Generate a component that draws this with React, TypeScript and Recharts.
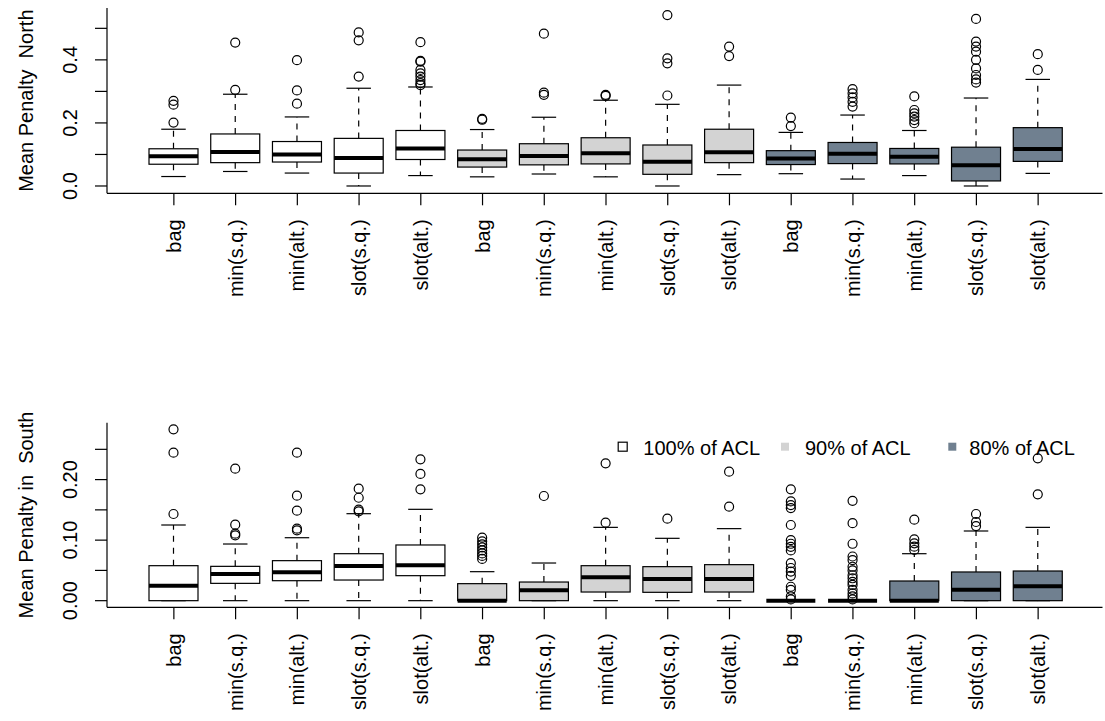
import React from 'react';
import { ComposedChart, Bar, XAxis, YAxis, Legend } from 'recharts';

const FONT = '"Liberation Sans", Arial, Helvetica, sans-serif';

// ---- categories ----
const methods = ['bag', 'min(s.q.)', 'min(alt.)', 'slot(s.q.)', 'slot(alt.)'];
const levels = ['100% of ACL', '90% of ACL', '80% of ACL'];
const levelColors = ['#FFFFFF', '#D3D3D3', '#708090'];

// ---- North panel (box statistics) ----
const northLow = [0.030, 0.046, 0.041, 0.0, 0.033, 0.029, 0.038, 0.029, 0.0, 0.036, 0.039, 0.022, 0.033, 0.0, 0.040];
const northQ1 = [0.069, 0.074, 0.076, 0.041, 0.084, 0.060, 0.067, 0.070, 0.037, 0.074, 0.068, 0.071, 0.070, 0.016, 0.078];
const northMed = [0.094, 0.108, 0.100, 0.089, 0.119, 0.085, 0.095, 0.104, 0.077, 0.107, 0.087, 0.102, 0.093, 0.066, 0.117];
const northQ3 = [0.118, 0.165, 0.141, 0.151, 0.176, 0.114, 0.134, 0.153, 0.130, 0.180, 0.112, 0.138, 0.119, 0.123, 0.185];
const northHigh = [0.180, 0.291, 0.219, 0.310, 0.314, 0.179, 0.218, 0.272, 0.259, 0.320, 0.170, 0.225, 0.176, 0.279, 0.338];
const northOutliers = [
  [0.201, 0.258, 0.270],
  [0.305, 0.455],
  [0.261, 0.303, 0.399],
  [0.347, 0.462, 0.487],
  [0.320, 0.326, 0.336, 0.347, 0.357, 0.368, 0.394, 0.397, 0.456],
  [0.210, 0.213],
  [0.289, 0.296, 0.483],
  [0.286, 0.289],
  [0.287, 0.389, 0.405, 0.542],
  [0.412, 0.442],
  [0.190, 0.217],
  [0.252, 0.267, 0.281, 0.294, 0.307],
  [0.199, 0.209, 0.220, 0.230, 0.241, 0.284],
  [0.328, 0.338, 0.352, 0.373, 0.400, 0.426, 0.442, 0.458, 0.530],
  [0.368, 0.418],
];
const northTicks = [0, 0.1, 0.2, 0.3, 0.4, 0.5];
const northTickLabels = ['0.0', '', '0.2', '', '0.4', ''];
const northDomain: [number, number] = [-0.0232, 0.5645];

// ---- South panel (box statistics) ----
const southLow = [0, 0, 0, 0, 0, 0, 0, 0, 0, 0, 0, 0, 0, 0, 0];
const southQ1 = [0, 0.0286, 0.033, 0.0341, 0.0413, 0, 0, 0.0143, 0.0138, 0.0143, 0, 0, 0, 0, 0];
const southMed = [0.0248, 0.0441, 0.0468, 0.0573, 0.0584, 0, 0.0171, 0.0385, 0.0358, 0.0358, 0, 0, 0, 0.0182, 0.0237];
const southQ3 = [0.0578, 0.0567, 0.0661, 0.0776, 0.092, 0.0281, 0.0308, 0.0578, 0.0562, 0.0595, 0, 0, 0.0325, 0.0474, 0.049];
const southHigh = [0.125, 0.0936, 0.104, 0.1437, 0.1509, 0.0479, 0.0622, 0.1211, 0.103, 0.119, 0, 0, 0.0776, 0.1151, 0.1211];
const southOutliers = [
  [0.1432, 0.2445, 0.2831],
  [0.108, 0.1107, 0.1256, 0.218],
  [0.1162, 0.119, 0.1487, 0.1735, 0.2445],
  [0.1476, 0.1503, 0.170, 0.185],
  [0.184, 0.2093, 0.2335],
  [0.069, 0.074, 0.078, 0.083, 0.088, 0.093, 0.098, 0.104],
  [0.1729],
  [0.1289, 0.2269],
  [0.1355],
  [0.1553, 0.2131],
  [0.002, 0.007, 0.018, 0.023, 0.041, 0.048, 0.054, 0.062, 0.083, 0.089, 0.094, 0.100, 0.125, 0.153, 0.158, 0.164, 0.184],
  [0.002, 0.007, 0.012, 0.018, 0.026, 0.031, 0.037, 0.042, 0.050, 0.056, 0.067, 0.073, 0.094, 0.128, 0.165],
  [0.0837, 0.0892, 0.0947, 0.1013, 0.1338],
  [0.1233, 0.130, 0.1432],
  [0.1757, 0.2351],
];
const southTicks = [0, 0.05, 0.1, 0.15, 0.2, 0.25];
const southTickLabels = ['0.00', '', '0.10', '', '0.20', ''];
const southDomain: [number, number] = [-0.01095, 0.294];

type Row = {
  key: string;
  method: string;
  fill: string;
  low: number;
  q1: number;
  med: number;
  q3: number;
  high: number;
  outliers: number[];
  lo: number;
  hi: number;
};

function buildRows(
  low: number[],
  q1: number[],
  med: number[],
  q3: number[],
  high: number[],
  outs: number[][]
): Row[] {
  return low.map((_, i) => {
    const g = Math.floor(i / methods.length);
    const m = i % methods.length;
    const all = [low[i], q1[i], med[i], q3[i], high[i], ...outs[i]];
    return {
      key: `b${i}`,
      method: methods[m],
      fill: levelColors[g],
      low: low[i],
      q1: q1[i],
      med: med[i],
      q3: q3[i],
      high: high[i],
      outliers: outs[i],
      lo: Math.min(...all),
      hi: Math.max(...all),
    };
  });
}

const northRows = buildRows(northLow, northQ1, northMed, northQ3, northHigh, northOutliers);
const southRows = buildRows(southLow, southQ1, southMed, southQ3, southHigh, southOutliers);

const LW = 1.2;

const BoxShape = (props: any) => {
  const { x, y, width, height, payload } = props;
  const d = payload as Row;
  if (!d || x == null || y == null) return null;
  const top = Math.min(y, y + height);
  const bot = Math.max(y, y + height);
  const py = (v: number) => bot - ((v - d.lo) / (d.hi - d.lo)) * (bot - top);
  const cx = x + width / 2;
  const half = width / 2;
  const cap = width / 4;
  const yQ1 = py(d.q1);
  const yQ3 = py(d.q3);
  const yMed = py(d.med);
  const yLow = py(d.low);
  const yHigh = py(d.high);
  return (
    <g>
      <line x1={cx} x2={cx} y1={yQ3} y2={yHigh} stroke="#000" strokeWidth={LW} strokeDasharray="6 6" />
      <line x1={cx} x2={cx} y1={yQ1} y2={yLow} stroke="#000" strokeWidth={LW} strokeDasharray="6 6" />
      <line x1={cx - cap} x2={cx + cap} y1={yHigh} y2={yHigh} stroke="#000" strokeWidth={LW} />
      <line x1={cx - cap} x2={cx + cap} y1={yLow} y2={yLow} stroke="#000" strokeWidth={LW} />
      <rect x={cx - half} y={yQ3} width={width} height={Math.max(0, yQ1 - yQ3)} fill={d.fill} stroke="#000" strokeWidth={LW} />
      <line x1={cx - half} x2={cx + half} y1={yMed} y2={yMed} stroke="#000" strokeWidth={4} />
      {d.outliers.map((o, k) => (
        <circle key={k} cx={cx} cy={py(o)} r={4.5} fill="none" stroke="#000" strokeWidth={LW} />
      ))}
    </g>
  );
};

const makeXTick = (rows: Row[]) => (props: any) => {
  const { x, y, payload } = props;
  const row = rows.find((r) => r.key === payload.value);
  const label = row ? row.method : '';
  return (
    <text
      x={x}
      y={y}
      transform={`rotate(-90 ${x} ${y})`}
      textAnchor="end"
      dy="0.35em"
      fontSize={20}
      fontFamily={FONT}
      fill="#000"
    >
      {label}
    </text>
  );
};

const makeYTick = (ticks: number[], labels: string[]) => (props: any) => {
  const { x, y, payload } = props;
  const idx = ticks.findIndex((t) => Math.abs(t - payload.value) < 1e-9);
  const label = idx >= 0 ? labels[idx] : '';
  if (!label) return <g />;
  return (
    <text
      x={x}
      y={y}
      transform={`rotate(-90 ${x} ${y})`}
      textAnchor="middle"
      fontSize={20}
      fontFamily={FONT}
      fill="#000"
    >
      {label}
    </text>
  );
};

const YTitle = (props: any) => {
  const vb = props.viewBox || {};
  const x = (vb.x ?? 0) + 33;
  const y = (vb.y ?? 0) + (vb.height ?? 0) / 2;
  return (
    <text
      x={x}
      y={y}
      transform={`rotate(-90 ${x} ${y})`}
      textAnchor="middle"
      fontSize={20}
      fontFamily={FONT}
      fill="#000"
      style={{ whiteSpace: 'pre' }}
    >
      {props.text}
    </text>
  );
};

const legendSquareX = [22.7, 185, 352.3];
const legendTextX = [43.3, 205, 369.3];

const LegendContent = () => (
  <svg width={500} height={30} style={{ display: 'block', overflow: 'visible' }}>
    {levels.map((lv, g) => (
      <g key={lv}>
        {g === 0 ? (
          <rect x={legendSquareX[g] - 4.5} y={11.7 - 4.5} width={9} height={9} fill="#FFFFFF" stroke="#000" strokeWidth={LW} />
        ) : (
          <rect x={legendSquareX[g] - 4} y={11.7 - 4} width={8} height={8} fill={levelColors[g]} />
        )}
        <text x={legendTextX[g]} y={20} fontSize={20} fontFamily={FONT} fill="#000">
          {lv}
        </text>
      </g>
    ))}
  </svg>
);

const axisLine = { stroke: '#000', strokeWidth: LW };

type PanelProps = {
  rows: Row[];
  height: number;
  marginTop: number;
  xAxisHeight: number;
  domain: [number, number];
  ticks: number[];
  tickLabels: string[];
  title: string;
  legendTop?: number;
};

const Panel = ({ rows, height, marginTop, xAxisHeight, domain, ticks, tickLabels, title, legendTop }: PanelProps) => (
  <ComposedChart width={1105} height={height} data={rows} margin={{ top: marginTop, right: 2.5, bottom: 0, left: 0 }}>
    <XAxis
      dataKey="key"
      type="category"
      height={xAxisHeight}
      padding={{ left: 36, right: 33.5 }}
      interval={0}
      tickSize={12}
      tickMargin={14}
      tick={makeXTick(rows)}
      axisLine={axisLine}
      tickLine={axisLine}
    />
    <XAxis xAxisId="top" orientation="top" dataKey="key" height={0} tick={false} tickLine={false} axisLine={axisLine} />
    <YAxis
      type="number"
      domain={domain}
      ticks={ticks}
      width={107}
      tickSize={12}
      tickMargin={18}
      interval={0}
      tick={makeYTick(ticks, tickLabels)}
      axisLine={axisLine}
      tickLine={axisLine}
      label={<YTitle text={title} />}
    />
    <YAxis yAxisId="right" orientation="right" type="number" domain={domain} width={0} tick={false} tickLine={false} axisLine={axisLine} />
    <Bar dataKey={(d: Row) => [d.lo, d.hi]} barSize={49} shape={<BoxShape />} isAnimationActive={false} />
    {legendTop != null ? (
      <Legend
        layout="horizontal"
        verticalAlign="middle"
        align="center"
        content={<LegendContent />}
        wrapperStyle={{ position: 'absolute', top: legendTop, left: 600, width: 500, height: 30 }}
      />
    ) : null}
  </ComposedChart>
);

export default function App() {
  return (
    <div style={{ position: 'absolute', left: 0, top: 0, width: 1105, height: 721, background: '#fff', fontFamily: FONT }}>
      <Panel
        rows={northRows}
        height={400}
        marginTop={8}
        xAxisHeight={206.7}
        domain={northDomain}
        ticks={northTicks}
        tickLabels={northTickLabels}
        title="Mean Penalty  North"
      />
      <Panel
        rows={southRows}
        height={321}
        marginTop={22.7}
        xAxisHeight={113.7}
        domain={southDomain}
        ticks={southTicks}
        tickLabels={southTickLabels}
        title="Mean Penalty in  South"
        legendTop={35}
      />
    </div>
  );
}
